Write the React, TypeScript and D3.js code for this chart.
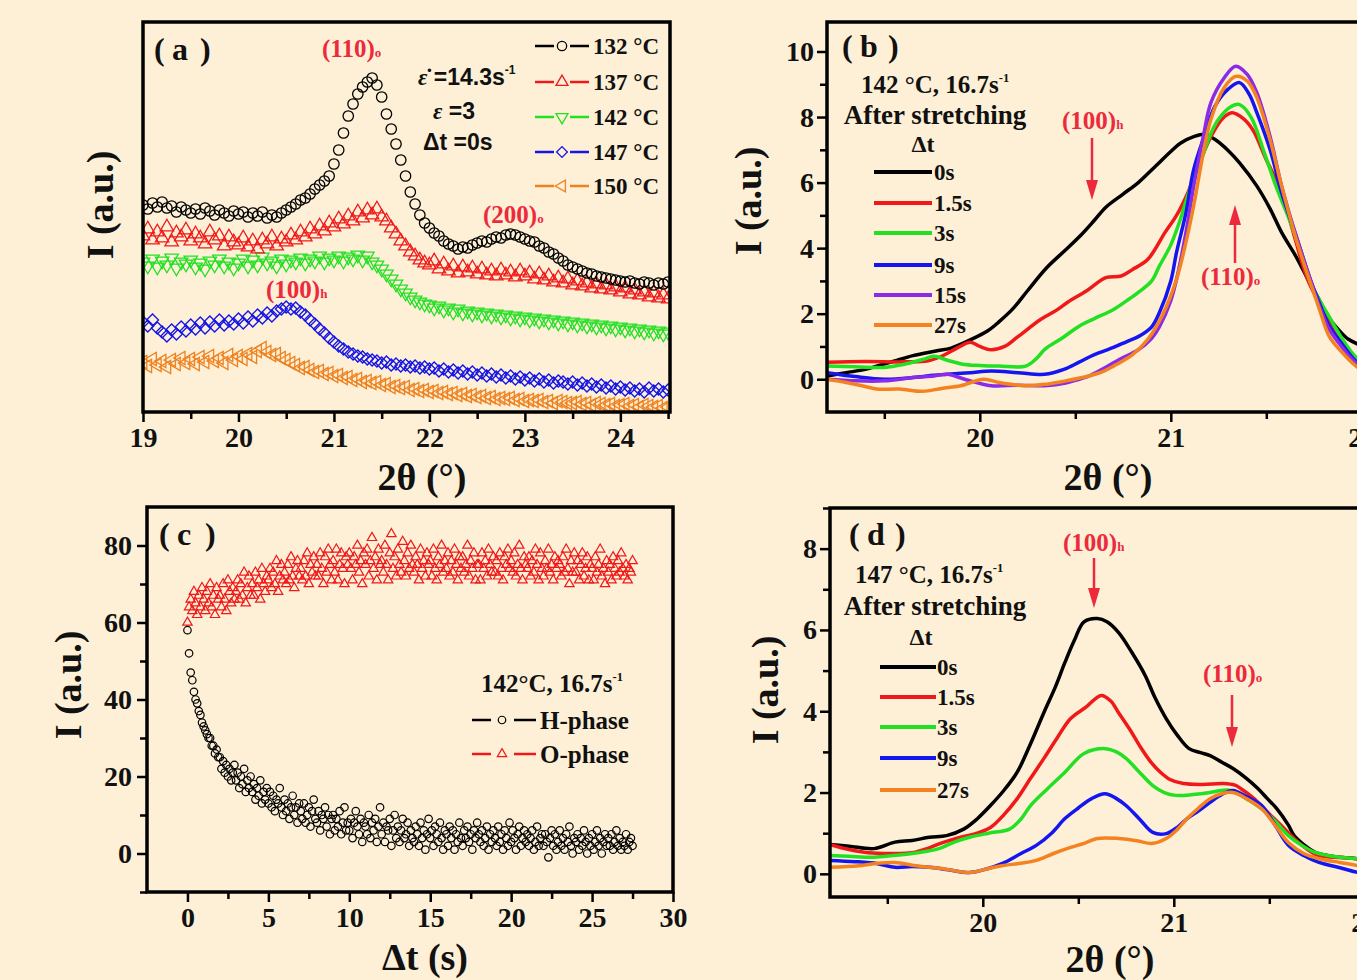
import * as d3 from 'd3';
import React, { useRef, useEffect } from 'react';

const W = 1357;
const H = 980;
const BG = '#fdf0d6';
const SERIF = "'Liberation Serif', 'Times New Roman', serif";
const SANS = "'Liberation Sans', Arial, sans-serif";
const PEAK_RED = '#ec2a3c';

// ---------- (a) scans right after stretching, 0.05 deg steps starting at 19 deg
const scanStartA = 19.0;
const scanStepA = 0.05;
const tempLabels = ['132 °C', '137 °C', '142 °C', '147 °C', '150 °C'];
const int132 = [
  207, 203, 209, 205, 210, 204, 206, 200, 205, 202,
  199, 203, 198, 204, 201, 197, 202, 199, 196, 201,
  198, 200, 195, 199, 196, 200, 194, 197, 195, 199,
  202, 205, 208, 212, 214, 218, 223, 227, 231, 236,
  248, 262, 279, 296, 308, 318, 325, 330, 334, 327,
  315, 298, 283, 268, 252, 236, 220, 208, 197, 189,
  184, 179, 176, 171, 168, 166, 163, 165, 164, 167,
  169, 171, 170, 173, 175, 174, 177, 178, 177, 175,
  173, 171, 170, 166, 164, 160, 158, 154, 151, 147,
  145, 143, 141, 139, 138, 136, 135, 134, 133, 132,
  131, 130, 131, 129, 128, 130, 129, 127, 129, 128,
  130,
];
const int137 = [
  176, 183, 172, 180, 174, 185, 170, 179, 175, 182,
  171, 178, 174, 168, 180, 172, 176, 166, 175, 170,
  167, 174, 165, 171, 163, 172, 168, 175, 166, 173,
  170, 177, 172, 180, 175, 183, 178, 186, 181, 189,
  185, 193, 188, 196, 191, 200, 194, 202, 197, 203,
  195, 191, 184, 178, 171, 166, 160, 156, 152, 149,
  147, 151, 143, 148, 141, 146, 139, 145, 140, 144,
  138, 143, 137, 141, 136, 142, 137, 140, 135, 141,
  136, 139, 133, 138, 132, 136, 130, 134, 129, 133,
  127, 131, 126, 129, 124, 128, 123, 127, 122, 125,
  120, 124, 118, 122, 117, 120, 115, 119, 114, 117,
  113,
];
const int142 = [
  150, 146, 153, 145, 151, 147, 154, 144, 150, 148,
  152, 145, 149, 143, 151, 147, 153, 146, 150, 144,
  149, 153, 146, 152, 147, 155, 149, 151, 146, 153,
  148, 152, 150, 154, 149, 153, 151, 156, 150, 154,
  152, 156, 151, 155, 153, 157, 152, 156, 150, 147,
  143, 138, 133, 128, 123, 119, 115, 112, 110, 108,
  107, 104, 106, 102, 104, 100, 103, 99, 101, 98,
  100, 97, 99, 96, 98, 95, 97, 94, 96, 93,
  95, 92, 94, 91, 93, 90, 92, 89, 91, 88,
  90, 87, 89, 86, 88, 85, 87, 84, 86, 83,
  85, 82, 84, 81, 83, 80, 82, 79, 81, 78,
  80,
];
const int147 = [
  90, 86, 92, 84, 80, 76, 82, 78, 85, 81,
  87, 83, 89, 84, 90, 86, 92, 87, 91, 88,
  93, 89, 95, 91, 97, 94, 99, 96, 101, 103,
  105, 103, 104, 100, 97, 92, 88, 83, 79, 74,
  70, 66, 63, 60, 58, 56, 55, 53, 52, 51,
  49, 50, 47, 48, 46, 47, 45, 46, 44, 45,
  43, 44, 41, 43, 40, 42, 39, 41, 38, 40,
  37, 39, 36, 38, 35, 37, 34, 36, 33, 35,
  32, 34, 31, 33, 30, 32, 29, 31, 30, 28,
  30, 27, 29, 26, 28, 25, 27, 24, 26, 23,
  25, 22, 24, 21, 23, 20, 24, 21, 23, 20,
  22,
];
const int150 = [
  50, 46, 53, 47, 51, 45, 52, 48, 54, 49,
  53, 48, 55, 50, 56, 51, 54, 49, 57, 52,
  56, 53, 58, 55, 61, 64, 60, 57, 58, 54,
  52, 49, 47, 44, 45, 42, 40, 41, 38, 39,
  36, 37, 34, 35, 32, 33, 30, 31, 29, 30,
  27, 28, 25, 26, 24, 25, 22, 23, 21, 22,
  20, 21, 19, 20, 18, 19, 17, 18, 16, 17,
  15, 16, 14, 15, 13, 14, 13, 14, 12, 13,
  11, 12, 11, 12, 10, 11, 9, 11, 10, 9,
  9, 10, 8, 9, 7, 9, 8, 7, 8, 6,
  7, 8, 6, 7, 5, 7, 6, 5, 6, 4,
  5,
];

// ---------- (b) 142 °C, 16.7 s-1, profiles after different delays
const delayLabelsB = ['0s', '1.5s', '3s', '9s', '15s', '27s'];
const b0s: [number, number][] = [
  [19.2, 0.1], [19.3, 0.2], [19.4, 0.3], [19.46, 0.4], [19.55, 0.55], [19.65, 0.72], [19.77, 0.86],
  [19.85, 0.95], [19.95, 1.2], [20.04, 1.47], [20.1, 1.75], [20.17, 2.13], [20.25, 2.7], [20.35, 3.4],
  [20.45, 3.95], [20.53, 4.4], [20.6, 4.85], [20.66, 5.25], [20.75, 5.65], [20.83, 6.0], [20.92, 6.5],
  [21.0, 6.95], [21.05, 7.2], [21.12, 7.4], [21.18, 7.47], [21.23, 7.32], [21.3, 6.98], [21.36, 6.6],
  [21.45, 5.9], [21.52, 5.2], [21.58, 4.48], [21.65, 3.8], [21.71, 3.14], [21.77, 2.5], [21.82, 1.93],
  [21.88, 1.5], [21.93, 1.22], [22.0, 1.02], [22.1, 0.8],
];
const b1_5s: [number, number][] = [
  [19.2, 0.52], [19.4, 0.54], [19.6, 0.53], [19.73, 0.56], [19.8, 0.7], [19.88, 0.95], [19.95, 1.13],
  [20.0, 1.0], [20.06, 0.9], [20.13, 1.0], [20.2, 1.3], [20.32, 1.83], [20.4, 2.1], [20.46, 2.35],
  [20.56, 2.7], [20.66, 3.1], [20.74, 3.15], [20.8, 3.35], [20.88, 3.66], [20.97, 4.48], [21.03, 5.0],
  [21.09, 5.7], [21.15, 6.6], [21.21, 7.4], [21.27, 7.95], [21.32, 8.13], [21.38, 7.95], [21.43, 7.6],
  [21.5, 6.7], [21.58, 5.7], [21.65, 4.3], [21.71, 3.14], [21.76, 2.5], [21.8, 2.0], [21.85, 1.5],
  [21.9, 1.05], [21.96, 0.7], [22.02, 0.4], [22.1, 0.25],
];
const b3s: [number, number][] = [
  [19.2, 0.4], [19.35, 0.38], [19.5, 0.36], [19.6, 0.45], [19.7, 0.6], [19.76, 0.7], [19.83, 0.58],
  [19.91, 0.46], [20.0, 0.42], [20.1, 0.4], [20.24, 0.4], [20.3, 0.65], [20.34, 0.91], [20.43, 1.25],
  [20.52, 1.62], [20.6, 1.85], [20.7, 2.13], [20.77, 2.4], [20.83, 2.65], [20.9, 3.0], [20.94, 3.45],
  [21.0, 4.1], [21.05, 4.88], [21.1, 5.8], [21.16, 6.7], [21.21, 7.5], [21.25, 7.93], [21.31, 8.3],
  [21.36, 8.38], [21.42, 8.0], [21.49, 6.9], [21.55, 5.9], [21.62, 4.88], [21.68, 3.9], [21.73, 2.96],
  [21.78, 2.4], [21.82, 2.0], [21.88, 1.4], [21.95, 0.8], [22.02, 0.4], [22.1, 0.2],
];
const b9s: [number, number][] = [
  [19.2, 0.2], [19.35, 0.08], [19.5, 0.0], [19.65, 0.05], [19.76, 0.12], [19.83, 0.15], [19.95, 0.2],
  [20.06, 0.25], [20.2, 0.2], [20.34, 0.15], [20.44, 0.3], [20.52, 0.52], [20.6, 0.75], [20.7, 0.97],
  [20.77, 1.15], [20.83, 1.3], [20.9, 1.6], [20.94, 2.03], [21.0, 3.0], [21.03, 3.87], [21.08, 5.1],
  [21.12, 6.4], [21.18, 7.5], [21.23, 8.32], [21.3, 8.85], [21.36, 9.05], [21.41, 8.7], [21.45, 8.14],
  [21.52, 7.0], [21.58, 5.7], [21.66, 4.3], [21.73, 3.05], [21.78, 2.3], [21.83, 1.62], [21.9, 1.05],
  [21.96, 0.6], [22.02, 0.3], [22.1, 0.15],
];
const b15s: [number, number][] = [
  [19.2, 0.0], [19.35, -0.05], [19.5, -0.05], [19.65, 0.05], [19.76, 0.1], [19.83, 0.15], [19.92, 0.0],
  [20.06, -0.2], [20.2, -0.18], [20.34, -0.2], [20.45, -0.12], [20.52, 0.0], [20.58, 0.12], [20.64, 0.3],
  [20.73, 0.6], [20.83, 0.9], [20.9, 1.25], [20.94, 1.6], [21.0, 2.4], [21.03, 3.05], [21.08, 4.5],
  [21.12, 5.9], [21.17, 7.4], [21.21, 8.44], [21.28, 9.2], [21.34, 9.55], [21.4, 9.3], [21.45, 8.75],
  [21.52, 7.4], [21.58, 5.9], [21.66, 4.3], [21.73, 3.05], [21.78, 2.2], [21.83, 1.52], [21.9, 0.95],
  [21.96, 0.55], [22.02, 0.3], [22.1, 0.15],
];
const b27s: [number, number][] = [
  [19.2, 0.0], [19.3, -0.1], [19.4, -0.22], [19.46, -0.3], [19.58, -0.3], [19.7, -0.37], [19.8, -0.28],
  [19.9, -0.2], [20.02, 0.0], [20.1, -0.1], [20.24, -0.2], [20.35, -0.15], [20.45, -0.05], [20.57, 0.1],
  [20.65, 0.25], [20.7, 0.4], [20.8, 0.75], [20.88, 1.22], [20.96, 2.0], [21.03, 3.05], [21.08, 4.2],
  [21.12, 5.3], [21.17, 6.9], [21.21, 7.93], [21.28, 8.9], [21.34, 9.24], [21.4, 9.1], [21.45, 8.6],
  [21.52, 7.3], [21.58, 5.9], [21.66, 4.2], [21.73, 2.96], [21.78, 2.1], [21.83, 1.3], [21.9, 0.8],
  [21.96, 0.45], [22.02, 0.2], [22.1, 0.1],
];

// ---------- (c) peak intensities vs delay, 0.1 s steps from 0 s
const timeStepC = 0.1;
const hPhase = [
  58, 52, 47, 45, 42, 40, 39, 37, 36, 34,
  33, 32, 31, 30, 30, 28, 28, 26, 27, 25,
  25, 22, 24, 21, 23, 20, 22, 19, 21, 23,
  19, 21, 17, 20, 18, 22, 16, 19, 17, 20,
  16, 18, 14, 17, 15, 19, 13, 16, 14, 17,
  13, 16, 12, 15, 11, 14, 13, 17, 12, 10,
  14, 11, 13, 9, 12, 15, 10, 12, 8, 13,
  11, 9, 13, 8, 10, 12, 7, 11, 14, 9,
  8, 11, 6, 10, 9, 12, 7, 10, 5, 9,
  10, 6, 9, 7, 11, 5, 8, 12, 6, 8,
  6, 9, 4, 8, 11, 7, 5, 9, 3, 8,
  7, 5, 10, 4, 8, 6, 9, 3, 7, 12,
  5, 8, 3, 7, 6, 9, 2, 6, 10, 4,
  7, 3, 6, 9, 4, 5, 8, 2, 6, 4,
  3, 7, 5, 2, 8, 4, 6, 1, 5, 9,
  4, 6, 2, 7, 5, 3, 8, 4, 1, 6,
  5, 2, 7, 4, 6, 1, 5, 3, 8, 4,
  2, 6, 4, 7, 3, 5, 1, 6, 4, 8,
  5, 3, 6, 2, 4, 7, 1, 5, 3, 6,
  4, 2, 7, 3, 5, 1, 6, 4, 2, 8,
  3, 6, 4, 1, 5, 7, 2, 4, 6, 3,
  5, 2, 4, 6, 1, 3, 7, 2, 4, 5,
  2, 5, 3, -1, 4, 6, 2, 5, 1, 3,
  6, 2, 4, 1, 5, 3, 7, 2, 0, 4,
  3, 5, 1, 4, 2, 6, 3, 0, 4, 2,
  5, 1, 3, 6, 2, 4, 0, 3, 5, 2,
  4, 2, 5, 1, 3, 6, 2, 4, 1, 3,
  2, 5, 1, 3, 4, 2,
];
const oPhase = [
  60, 64, 66, 63, 68, 65, 62, 67, 64, 69,
  66, 63, 68, 65, 70, 64, 67, 62, 69, 66,
  67, 64, 70, 66, 63, 71, 68, 65, 69, 66,
  68, 71, 66, 70, 67, 73, 65, 69, 72, 67,
  70, 67, 73, 69, 71, 66, 74, 70, 68, 72,
  71, 74, 69, 73, 70, 76, 68, 72, 75, 71,
  73, 70, 75, 71, 77, 72, 69, 74, 76, 72,
  74, 71, 76, 72, 78, 70, 75, 73, 77, 72,
  75, 72, 78, 74, 70, 77, 73, 79, 75, 71,
  76, 73, 79, 71, 75, 78, 74, 70, 77, 75,
  78, 74, 71, 77, 75, 80, 73, 76, 70, 78,
  75, 79, 72, 76, 82, 74, 77, 71, 79, 75,
  76, 73, 80, 75, 71, 78, 83, 74, 77, 72,
  79, 75, 73, 81, 76, 72, 78, 74, 80, 75,
  73, 77, 75, 71, 79, 74, 76, 72, 78, 75,
  76, 72, 79, 74, 71, 77, 75, 80, 73, 76,
  74, 78, 72, 76, 73, 79, 75, 71, 77, 74,
  77, 73, 75, 80, 72, 76, 74, 78, 71, 75,
  75, 71, 78, 74, 76, 72, 79, 75, 73, 77,
  73, 76, 72, 78, 74, 71, 77, 75, 79, 74,
  76, 73, 78, 72, 75, 80, 74, 71, 77, 75,
  74, 77, 72, 76, 73, 79, 75, 71, 78, 74,
  72, 76, 74, 79, 73, 75, 71, 77, 74, 76,
  75, 72, 77, 73, 79, 74, 70, 76, 73, 78,
  73, 76, 71, 75, 78, 72, 74, 77, 71, 75,
  74, 71, 77, 73, 75, 79, 72, 74, 70, 76,
  73, 75, 71, 77, 74, 72, 76, 73, 78, 74,
  72, 75, 71, 74, 73, 76,
];

// ---------- (d) 147 °C, 16.7 s-1
const delayLabelsD = ['0s', '1.5s', '3s', '9s', '27s'];
const d0s: [number, number][] = [
  [19.2, 0.72], [19.3, 0.68], [19.43, 0.62], [19.54, 0.78], [19.63, 0.82], [19.72, 0.9], [19.81, 0.94],
  [19.9, 1.1], [19.97, 1.35], [20.04, 1.68], [20.11, 2.05], [20.18, 2.5], [20.25, 3.2], [20.32, 3.97],
  [20.38, 4.6], [20.43, 5.2], [20.48, 5.75], [20.53, 6.2], [20.6, 6.28], [20.65, 6.2], [20.71, 5.94],
  [20.78, 5.45], [20.85, 4.88], [20.9, 4.35], [20.96, 3.82], [21.02, 3.4], [21.08, 3.08], [21.14, 2.98],
  [21.19, 2.91], [21.25, 2.75], [21.31, 2.59], [21.38, 2.35], [21.44, 2.1], [21.49, 1.85], [21.54, 1.6],
  [21.6, 1.2], [21.63, 0.94], [21.68, 0.72], [21.74, 0.53], [21.85, 0.42], [21.97, 0.37], [22.1, 0.33],
];
const d1_5s: [number, number][] = [
  [19.2, 0.72], [19.3, 0.6], [19.4, 0.52], [19.52, 0.5], [19.63, 0.52], [19.72, 0.64], [19.79, 0.77],
  [19.9, 0.92], [19.97, 1.0], [20.04, 1.14], [20.11, 1.45], [20.18, 1.85], [20.25, 2.35], [20.32, 2.84],
  [20.39, 3.35], [20.46, 3.82], [20.54, 4.1], [20.62, 4.39], [20.67, 4.25], [20.71, 3.97], [20.77, 3.55],
  [20.82, 3.16], [20.88, 2.75], [20.93, 2.5], [20.98, 2.32], [21.05, 2.22], [21.15, 2.2], [21.26, 2.22],
  [21.32, 2.18], [21.35, 2.1], [21.42, 1.85], [21.49, 1.52], [21.56, 1.2], [21.63, 0.87], [21.7, 0.6],
  [21.76, 0.45], [21.87, 0.4], [21.97, 0.37], [22.1, 0.35],
];
const d3s: [number, number][] = [
  [19.2, 0.45], [19.3, 0.43], [19.43, 0.41], [19.53, 0.45], [19.63, 0.5], [19.7, 0.55], [19.77, 0.62],
  [19.85, 0.78], [19.93, 0.9], [20.03, 1.0], [20.14, 1.1], [20.2, 1.35], [20.25, 1.68], [20.34, 2.1],
  [20.43, 2.5], [20.53, 2.96], [20.64, 3.08], [20.7, 3.0], [20.75, 2.84], [20.82, 2.5], [20.89, 2.17],
  [20.95, 2.0], [21.01, 1.93], [21.1, 1.95], [21.19, 2.0], [21.25, 2.05], [21.3, 2.05], [21.38, 1.85],
  [21.46, 1.6], [21.53, 1.3], [21.6, 0.94], [21.67, 0.7], [21.74, 0.53], [21.85, 0.42], [21.97, 0.37],
  [22.1, 0.35],
];
const d9s: [number, number][] = [
  [19.2, 0.33], [19.33, 0.3], [19.45, 0.25], [19.54, 0.16], [19.63, 0.18], [19.72, 0.16], [19.82, 0.1],
  [19.93, 0.03], [20.02, 0.12], [20.1, 0.25], [20.2, 0.5], [20.28, 0.7], [20.36, 1.0], [20.43, 1.36],
  [20.5, 1.62], [20.57, 1.85], [20.64, 1.97], [20.7, 1.85], [20.75, 1.68], [20.82, 1.35], [20.89, 1.02],
  [20.96, 0.99], [21.02, 1.15], [21.07, 1.36], [21.13, 1.55], [21.19, 1.76], [21.25, 1.95], [21.31, 2.05],
  [21.38, 1.9], [21.46, 1.68], [21.53, 1.2], [21.6, 0.7], [21.68, 0.45], [21.76, 0.28], [21.87, 0.15],
  [21.97, 0.03], [22.1, 0.0],
];
const d27s: [number, number][] = [
  [19.2, 0.16], [19.35, 0.2], [19.45, 0.26], [19.54, 0.28], [19.65, 0.2], [19.8, 0.12], [19.93, 0.03],
  [20.02, 0.12], [20.1, 0.2], [20.2, 0.26], [20.28, 0.33], [20.37, 0.5], [20.46, 0.65], [20.53, 0.75],
  [20.6, 0.87], [20.71, 0.87], [20.8, 0.82], [20.89, 0.75], [20.96, 0.87], [21.02, 1.1], [21.07, 1.36],
  [21.13, 1.62], [21.19, 1.85], [21.25, 1.97], [21.31, 2.0], [21.38, 1.85], [21.46, 1.6], [21.53, 1.2],
  [21.6, 0.77], [21.68, 0.5], [21.76, 0.37], [21.87, 0.28], [21.97, 0.2], [22.1, 0.15],
];

type Sel = d3.Selection<any, any, any, any>;

function addText(g: Sel, x: number, y: number, str: string, size: number, o: any = {}) {
  return g.append('text')
    .attr('x', x).attr('y', y)
    .attr('font-family', o.family || SERIF)
    .attr('font-size', size)
    .attr('font-weight', o.weight || 'bold')
    .attr('font-style', o.style || 'normal')
    .attr('fill', o.fill || '#111')
    .attr('text-anchor', o.anchor || 'start')
    .text(str);
}

function panelTag(g: Sel, x: number, y: number, letter: string) {
  addText(g, x, y, '(', 32);
  addText(g, x + 18, y, letter, 32);
  addText(g, x + 46, y, ')', 32);
}

function peakLabel(g: Sel, x: number, y: number, main: string, sub: string) {
  const t = g.append('text').attr('x', x).attr('y', y)
    .attr('font-family', SERIF).attr('font-size', 25).attr('font-weight', 'bold')
    .attr('fill', PEAK_RED);
  t.append('tspan').text(main);
  t.append('tspan').attr('font-size', 13).text(sub);
}

function arrow(g: Sel, x: number, from: number, to: number) {
  const dir = to > from ? 1 : -1;
  const base = to - dir * 20;
  g.append('line').attr('x1', x).attr('x2', x).attr('y1', from).attr('y2', base)
    .attr('stroke', PEAK_RED).attr('stroke-width', 2.5);
  g.append('path')
    .attr('d', `M${x - 6},${base} L${x + 6},${base} L${x},${to} Z`)
    .attr('fill', PEAK_RED);
}

// condition text with a superscript -1 on the rate
function condText(g: Sel, x: number, y: number, temp: string, rate: string, size: number) {
  const t = g.append('text').attr('x', x).attr('y', y)
    .attr('font-family', SERIF).attr('font-size', size).attr('font-weight', 'bold').attr('fill', '#111');
  t.append('tspan').text(temp);
  t.append('tspan').text(rate);
  t.append('tspan').attr('font-size', size * 0.5).attr('dy', -size * 0.45).text('-1');
}

function frame(g: Sel, p: any) {
  g.append('rect')
    .attr('x', p.x0).attr('y', p.y0)
    .attr('width', p.x1 - p.x0).attr('height', p.y1 - p.y0)
    .attr('fill', 'none').attr('stroke', '#000').attr('stroke-width', 3.5);
}

function styleAxis(ax: Sel) {
  ax.select('.domain').remove();
  ax.attr('font-size', null).attr('font-family', null);
  ax.selectAll('line').attr('stroke', '#000').attr('stroke-width', 2.5);
  ax.selectAll('text')
    .attr('font-family', SERIF).attr('font-size', 28)
    .attr('font-weight', 'bold').attr('fill', '#111');
}

function xAxis(g: Sel, p: any, x: any, majors: number[], minors: number[]) {
  const a = g.append('g').attr('transform', `translate(0,${p.y1})`)
    .call(d3.axisBottom(x).tickValues(majors).tickSize(10).tickSizeOuter(0).tickPadding(5).tickFormat(d3.format('d')));
  styleAxis(a);
  const m = g.append('g').attr('transform', `translate(0,${p.y1})`)
    .call(d3.axisBottom(x).tickValues(minors).tickSize(7).tickSizeOuter(0).tickFormat(() => ''));
  styleAxis(m);
}

function yAxis(g: Sel, p: any, y: any, majors: number[], minors: number[], pad: number) {
  const a = g.append('g').attr('transform', `translate(${p.x0},0)`)
    .call(d3.axisLeft(y).tickValues(majors).tickSize(10).tickSizeOuter(0).tickPadding(pad).tickFormat(d3.format('d')));
  styleAxis(a);
  const m = g.append('g').attr('transform', `translate(${p.x0},0)`)
    .call(d3.axisLeft(y).tickValues(minors).tickSize(7).tickSizeOuter(0).tickFormat(() => ''));
  styleAxis(m);
}

function axisTitleX(g: Sel, cx: number, y: number, str: string) {
  addText(g, cx, y, str, 38, { anchor: 'middle' });
}

function axisTitleY(g: Sel, cx: number, cy: number, str: string) {
  g.append('text')
    .attr('transform', `translate(${cx},${cy}) rotate(-90)`)
    .attr('text-anchor', 'middle').attr('dominant-baseline', 'central')
    .attr('font-family', SERIF).attr('font-size', 38).attr('font-weight', 'bold').attr('fill', '#111')
    .text(str);
}

function clipFor(svg: Sel, id: string, p: any) {
  svg.append('clipPath').attr('id', id)
    .append('rect').attr('x', p.x0).attr('y', p.y0)
    .attr('width', p.x1 - p.x0).attr('height', p.y1 - p.y0);
  return `url(#${id})`;
}

function markerPath(shape: string, size: number) {
  if (shape === 'circle') return d3.symbol().type(d3.symbolCircle).size(size)()!;
  if (shape === 'diamond') return d3.symbol().type(d3.symbolSquare).size(size)()!;
  return d3.symbol().type(d3.symbolTriangle).size(size)()!;
}
const shapeRotate: Record<string, number> = { circle: 0, up: 0, down: 180, diamond: 45, left: -90 };

function drawPanelA(svg: Sel) {
  const p = { x0: 143, x1: 670, y0: 22, y1: 412 };
  const x = d3.scaleLinear().domain([19, 24.52]).range([p.x0, p.x1]);
  const y = d3.scaleLinear().domain([0, 390]).range([p.y1, p.y0]);
  const g = svg.append('g');
  const clip = clipFor(svg, 'clipA', p);

  const series = [
    { vals: int150, color: '#ef8220', shape: 'left', size: 75 },
    { vals: int147, color: '#1515e6', shape: 'diamond', size: 72 },
    { vals: int142, color: '#22e022', shape: 'down', size: 78 },
    { vals: int137, color: '#f01818', shape: 'up', size: 78 },
    { vals: int132, color: '#000000', shape: 'circle', size: 85 },
  ];
  const plot = g.append('g').attr('clip-path', clip);
  series.forEach((s) => {
    const d = markerPath(s.shape, s.size);
    plot.append('g').selectAll('path')
      .data(s.vals)
      .enter().append('path')
      .attr('d', d)
      .attr('transform', (v, i) => `translate(${x(scanStartA + i * scanStepA)},${y(v)}) rotate(${shapeRotate[s.shape]})`)
      .attr('fill', 'none').attr('stroke', s.color).attr('stroke-width', 1.3);
  });

  frame(g, p);
  xAxis(g, p, x, [19, 20, 21, 22, 23, 24], [19.5, 20.5, 21.5, 22.5, 23.5, 24.5]);
  axisTitleX(g, 422, 490, '2θ (°)');
  axisTitleY(g, 100, 205, 'I (a.u.)');
  panelTag(g, 154, 60, 'a');

  peakLabel(g, 322, 57, '(110)', 'o');
  peakLabel(g, 483, 223, '(200)', 'o');
  peakLabel(g, 266, 298, '(100)', 'h');

  // conditions
  const r = g.append('text').attr('x', 418).attr('y', 85)
    .attr('font-family', SANS).attr('font-size', 23).attr('font-weight', 'bold').attr('fill', '#111');
  r.append('tspan').attr('font-family', SERIF).attr('font-style', 'italic').text('ε̇');
  r.append('tspan').text(' =14.3s');
  r.append('tspan').attr('font-size', 12).attr('dy', -11).text('-1');
  const e = g.append('text').attr('x', 433).attr('y', 119)
    .attr('font-family', SANS).attr('font-size', 23).attr('font-weight', 'bold').attr('fill', '#111');
  e.append('tspan').attr('font-family', SERIF).attr('font-style', 'italic').text('ε');
  e.append('tspan').text(' =3');
  addText(g, 423, 150, 'Δt =0s', 23, { family: SANS });

  // legend
  const legendY = [46, 82, 117, 152, 186];
  const legendSeries = [...series].reverse();
  legendSeries.forEach((s, i) => {
    const ly = legendY[i];
    g.append('line').attr('x1', 535).attr('x2', 554).attr('y1', ly).attr('y2', ly)
      .attr('stroke', s.color).attr('stroke-width', 2.5);
    g.append('line').attr('x1', 570).attr('x2', 589).attr('y1', ly).attr('y2', ly)
      .attr('stroke', s.color).attr('stroke-width', 2.5);
    g.append('path').attr('d', markerPath(s.shape, s.size * 0.8))
      .attr('transform', `translate(562,${ly}) rotate(${shapeRotate[s.shape]})`)
      .attr('fill', 'none').attr('stroke', s.color).attr('stroke-width', 1.3);
    addText(g, 593, ly + 8, tempLabels[i], 23);
  });
}

function drawLinesPanel(svg: Sel, id: string, p: any, yDomain: [number, number], series: any[],
  yMajors: number[], yMinors: number[]) {
  const x = d3.scaleLinear().domain([19.2, 22.3]).range([p.x0, p.x0 + 3.1 * 191]);
  const y = d3.scaleLinear().domain(yDomain).range([p.y1, p.y0]);
  const g = svg.append('g');
  const clip = clipFor(svg, id, p);
  const line = d3.line<[number, number]>()
    .x((d) => x(d[0])).y((d) => y(d[1]))
    .curve(d3.curveCatmullRom.alpha(0.5));
  const plot = g.append('g').attr('clip-path', clip);
  series.forEach((s) => {
    plot.append('path').attr('d', line(s.pts)!)
      .attr('fill', 'none').attr('stroke', s.color).attr('stroke-width', 3.5)
      .attr('stroke-linejoin', 'round');
  });
  frame(g, p);
  xAxis(g, p, x, [20, 21, 22], [19.5, 20.5, 21.5, 22.5]);
  yAxis(g, p, y, yMajors, yMinors, 3);
  return { g, x, y };
}

function drawPanelB(svg: Sel) {
  const p = { x0: 827, x1: 1425, y0: 22, y1: 412 };
  const series = [
    { pts: b0s, color: '#000000' },
    { pts: b1_5s, color: '#f01818' },
    { pts: b3s, color: '#22e022' },
    { pts: b9s, color: '#1515f0' },
    { pts: b15s, color: '#8a2be8' },
    { pts: b27s, color: '#f58220' },
  ];
  const { g } = drawLinesPanel(svg, 'clipB', p, [-1, 10.9], series,
    [0, 2, 4, 6, 8, 10], [1, 3, 5, 7, 9]);
  axisTitleX(g, 1108, 490, '2θ (°)');
  axisTitleY(g, 748, 201, 'I (a.u.)');
  panelTag(g, 842, 57, 'b');
  condText(g, 861, 93, '142 °C, ', '16.7s', 25);
  addText(g, 935, 124, 'After stretching', 27, { anchor: 'middle' });
  addText(g, 923, 152, 'Δt', 24, { anchor: 'middle' });
  const ly = [172, 203, 233, 265, 295, 325];
  series.forEach((s, i) => {
    g.append('line').attr('x1', 874).attr('x2', 932).attr('y1', ly[i]).attr('y2', ly[i])
      .attr('stroke', s.color).attr('stroke-width', 4);
    addText(g, 934, ly[i] + 8, delayLabelsB[i], 23);
  });
  peakLabel(g, 1062, 129, '(100)', 'h');
  arrow(g, 1092, 138, 200);
  peakLabel(g, 1201, 285, '(110)', 'o');
  arrow(g, 1235, 263, 205);
}

function drawPanelC(svg: Sel) {
  const p = { x0: 147, x1: 673, y0: 507, y1: 892 };
  const x = d3.scaleLinear().domain([-2.5, 30]).range([p.x0, p.x1]);
  const y = d3.scaleLinear().domain([-10, 90]).range([p.y1, p.y0]);
  const g = svg.append('g');
  const clip = clipFor(svg, 'clipC', p);
  const plot = g.append('g').attr('clip-path', clip);

  const tri = markerPath('up', 38);
  const circ = markerPath('circle', 44);
  plot.append('g').selectAll('path').data(oPhase).enter().append('path')
    .attr('d', tri)
    .attr('transform', (v, i) => `translate(${x(i * timeStepC)},${y(v)})`)
    .attr('fill', 'none').attr('stroke', '#f01818').attr('stroke-width', 1.2);
  plot.append('g').selectAll('path').data(hPhase).enter().append('path')
    .attr('d', circ)
    .attr('transform', (v, i) => `translate(${x(i * timeStepC)},${y(v)})`)
    .attr('fill', 'none').attr('stroke', '#000').attr('stroke-width', 1.2);

  frame(g, p);
  xAxis(g, p, x, [0, 5, 10, 15, 20, 25, 30], [2.5, 7.5, 12.5, 17.5, 22.5, 27.5]);
  yAxis(g, p, y, [0, 20, 40, 60, 80], [-10, 10, 30, 50, 70], 5);
  axisTitleX(g, 425, 970, 'Δt (s)');
  axisTitleY(g, 68, 685, 'I (a.u.)');
  panelTag(g, 159, 545, 'c');

  condText(g, 481, 692, '142°C, ', '16.7s', 25);
  const items = [
    { y: 720, color: '#000', d: circ, label: 'H-phase' },
    { y: 754, color: '#f01818', d: tri, label: 'O-phase' },
  ];
  items.forEach((it) => {
    g.append('line').attr('x1', 472).attr('x2', 491).attr('y1', it.y).attr('y2', it.y)
      .attr('stroke', it.color).attr('stroke-width', 2.5);
    g.append('line').attr('x1', 514).attr('x2', 536).attr('y1', it.y).attr('y2', it.y)
      .attr('stroke', it.color).attr('stroke-width', 2.5);
    g.append('path').attr('d', it.d).attr('transform', `translate(502,${it.y})`)
      .attr('fill', 'none').attr('stroke', it.color).attr('stroke-width', 1.2);
    addText(g, 540, it.y + 9, it.label, 25);
  });
}

function drawPanelD(svg: Sel) {
  const p = { x0: 830, x1: 1425, y0: 508, y1: 897 };
  const series = [
    { pts: d0s, color: '#000000' },
    { pts: d1_5s, color: '#f01818' },
    { pts: d3s, color: '#22e022' },
    { pts: d9s, color: '#1515f0' },
    { pts: d27s, color: '#f58220' },
  ];
  const { g } = drawLinesPanel(svg, 'clipD', p, [-0.57, 9], series,
    [0, 2, 4, 6, 8], [1, 3, 5, 7, 9]);
  axisTitleX(g, 1110, 972, '2θ (°)');
  axisTitleY(g, 765, 690, 'I (a.u.)');
  panelTag(g, 849, 545, 'd');
  condText(g, 855, 583, '147 °C, ', '16.7s', 25);
  addText(g, 935, 615, 'After stretching', 27, { anchor: 'middle' });
  addText(g, 921, 645, 'Δt', 24, { anchor: 'middle' });
  const ly = [667, 697, 727, 758, 790];
  series.forEach((s, i) => {
    g.append('line').attr('x1', 880).attr('x2', 936).attr('y1', ly[i]).attr('y2', ly[i])
      .attr('stroke', s.color).attr('stroke-width', 4);
    addText(g, 937, ly[i] + 8, delayLabelsD[i], 23);
  });
  peakLabel(g, 1063, 551, '(100)', 'h');
  arrow(g, 1094, 558, 608);
  peakLabel(g, 1203, 682, '(110)', 'o');
  arrow(g, 1232, 695, 747);
}

export default function App() {
  const ref = useRef<SVGSVGElement>(null);

  useEffect(() => {
    const svg = d3.select(ref.current);
    svg.selectAll('*').remove();
    svg.append('rect').attr('width', W).attr('height', H).attr('fill', BG);
    drawPanelA(svg);
    drawPanelB(svg);
    drawPanelC(svg);
    drawPanelD(svg);
  }, []);

  return (
    <svg
      ref={ref}
      width={W}
      height={H}
      style={{ position: 'absolute', left: 0, top: 0, display: 'block' }}
    />
  );
}
